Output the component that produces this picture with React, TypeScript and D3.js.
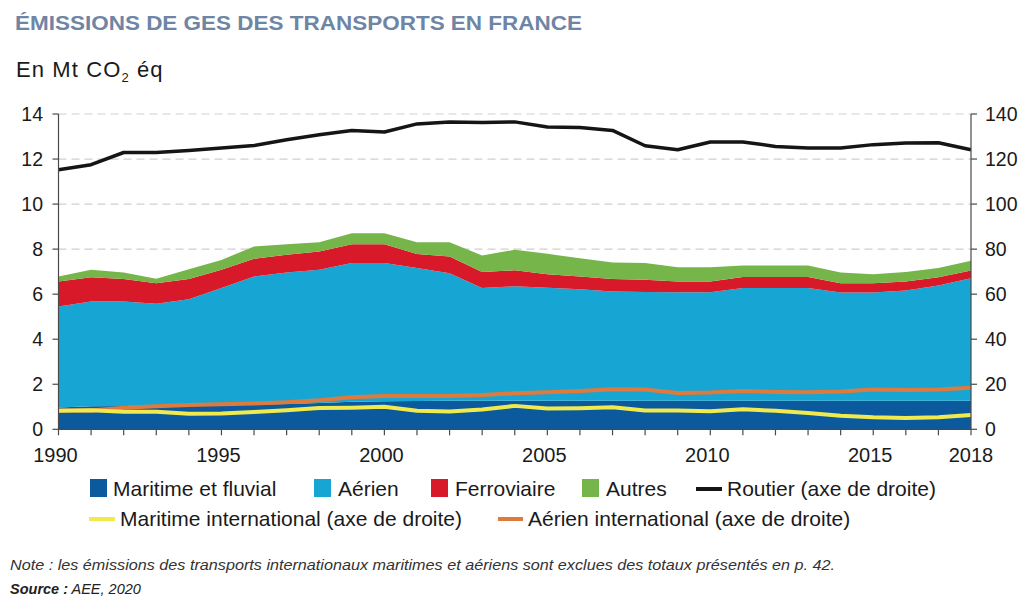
import React from "react";
import * as d3 from "d3";

const years = d3.range(1990, 2019);
const maritime = [0.97,1.02,1.03,1.05,1.05,1.07,1.1,1.12,1.17,1.22,1.25,1.26,1.27,1.27,1.27,1.27,1.27,1.27,1.27,1.27,1.27,1.27,1.27,1.27,1.27,1.27,1.27,1.27,1.27];
const aerien = [4.48,4.65,4.64,4.52,4.73,5.2,5.68,5.84,5.91,6.16,6.13,5.9,5.66,5.0,5.08,5.02,4.95,4.85,4.83,4.82,4.82,5.0,5.0,5.0,4.8,4.8,4.89,5.11,5.44];
const ferroviaire = [1.11,1.08,1.0,0.92,0.89,0.81,0.79,0.79,0.82,0.84,0.84,0.62,0.74,0.71,0.71,0.6,0.56,0.55,0.54,0.47,0.47,0.49,0.49,0.49,0.42,0.42,0.4,0.37,0.34];
const autres = [0.22,0.33,0.29,0.19,0.44,0.44,0.55,0.47,0.41,0.49,0.49,0.53,0.64,0.74,0.91,0.9,0.82,0.74,0.74,0.64,0.64,0.51,0.51,0.51,0.47,0.4,0.42,0.41,0.43];
const routier = [115.2,117.5,122.9,122.9,123.8,124.9,126,128.6,130.8,132.7,132,135.6,136.4,136.2,136.5,134.2,134,132.7,125.9,124.1,127.6,127.6,125.6,124.9,124.9,126.4,127.1,127.2,124.1];
const maritimeIntl = [8.2,8.5,7.8,7.8,6.9,7.0,7.7,8.5,9.5,9.6,10.0,8.2,7.9,8.8,10.4,9.2,9.4,9.8,8.3,8.3,8.0,8.9,8.2,7.2,6.0,5.3,5.0,5.3,6.4];
const aerienIntl = [8.3,8.3,9.6,10.2,10.8,11.1,11.5,12.0,12.9,14.2,14.8,14.8,14.8,15.2,16.0,16.4,17.0,17.8,17.7,16.1,16.3,17.0,16.6,16.4,16.8,17.7,17.4,17.7,18.5];
const leftTicks = [0, 2, 4, 6, 8, 10, 12, 14];
const rightTicks = [0, 20, 40, 60, 80, 100, 120, 140];
const yearLabels = [1990, 1995, 2000, 2005, 2010, 2015, 2018];

const stackKeys = ["maritime", "aerien", "ferroviaire", "autres"];
const colors: Record<string, string> = {
  maritime: "#0b5a9e",
  aerien: "#17a6d3",
  ferroviaire: "#d7192a",
  autres: "#76b54a",
  routier: "#151515",
  maritimeIntl: "#f1ea4f",
  aerienIntl: "#dd7a3d",
};

const FONT = "'Liberation Sans', Arial, Helvetica, sans-serif";

export default function App() {
  const x0 = 58.5, x1 = 971, yTop = 114, yBot = 429.3;
  const x = d3.scaleLinear().domain([1990, 2018]).range([x0, x1]);
  const yL = d3.scaleLinear().domain([0, 14]).range([yBot, yTop]);
  const yR = d3.scaleLinear().domain([0, 140]).range([yBot, yTop]);

  const rows = years.map((yr, i) => ({
    year: yr,
    maritime: maritime[i],
    aerien: aerien[i],
    ferroviaire: ferroviaire[i],
    autres: autres[i],
  }));
  const stacked = d3.stack<any>().keys(stackKeys)(rows);
  const area = d3
    .area<any>()
    .x((d) => x(d.data.year))
    .y0((d) => yL(d[0]))
    .y1((d) => yL(d[1]));
  const lineR = (vals: number[]) =>
    d3
      .line<number>()
      .x((_, i) => x(years[i]))
      .y((v) => yR(v))(vals) || "";

  const legend1 = [
    { key: "maritime", label: "Maritime et fluvial", sx: 90, tx: 113 },
    { key: "aerien", label: "Aérien", sx: 314, tx: 338 },
    { key: "ferroviaire", label: "Ferroviaire", sx: 431, tx: 455 },
    { key: "autres", label: "Autres", sx: 582, tx: 606 },
  ];

  return (
    <svg
      width={1024}
      height={607}
      style={{ position: "absolute", left: 0, top: 0, background: "#fff" }}
      fontFamily={FONT}
    >
      <rect x={0} y={0} width={1024} height={607} fill="#fff" />
      <text x={15} y={30} fontSize={21} fontWeight="bold" fill="#6e85a4" textLength={567} lengthAdjust="spacingAndGlyphs">
        ÉMISSIONS DE GES DES TRANSPORTS EN FRANCE
      </text>
      <text x={16} y={77} fontSize={22} fill="#1a1a1a" letterSpacing={1.1}>
        En Mt CO<tspan fontSize={13} dy={5}>2</tspan>
        <tspan dy={-5}> éq</tspan>
      </text>

      {/* gridlines */}
      {leftTicks.filter((t) => t > 0).map((t) => (
        <line key={t} x1={x0} x2={x1} y1={yL(t)} y2={yL(t)} stroke="#cfcfcf" strokeWidth={1.2} strokeDasharray="8,5" />
      ))}

      {/* areas */}
      {stacked.map((s) => (
        <path key={s.key} d={area(s as any) || ""} fill={colors[s.key]} />
      ))}

      {/* lines */}
      <path d={lineR(aerienIntl)} fill="none" stroke={colors.aerienIntl} strokeWidth={4} strokeLinejoin="round" />
      <path d={lineR(maritimeIntl)} fill="none" stroke={colors.maritimeIntl} strokeWidth={4} strokeLinejoin="round" />
      <path d={lineR(routier)} fill="none" stroke={colors.routier} strokeWidth={3.5} strokeLinejoin="round" />

      {/* left axis */}
      <line x1={x0} x2={x0} y1={yTop} y2={yBot} stroke="#4a4a4a" strokeWidth={1.2} />
      {leftTicks.map((t) => (
        <g key={t}>
          <line x1={x0 - 6} x2={x0} y1={yL(t)} y2={yL(t)} stroke="#4a4a4a" strokeWidth={1.2} />
          <text x={43} y={yL(t) + 7} fontSize={19.5} textAnchor="end" fill="#1a1a1a">{t}</text>
        </g>
      ))}
      {/* right axis */}
      <line x1={x1} x2={x1} y1={yTop} y2={yBot} stroke="#4a4a4a" strokeWidth={1.2} />
      {rightTicks.map((t) => (
        <g key={t}>
          <line x1={x1} x2={x1 + 6} y1={yR(t)} y2={yR(t)} stroke="#4a4a4a" strokeWidth={1.2} />
          <text x={985} y={yR(t) + 7} fontSize={19.5} textAnchor="start" fill="#1a1a1a">{t}</text>
        </g>
      ))}
      {/* bottom axis */}
      <line x1={x0} x2={x1} y1={yBot} y2={yBot} stroke="#4a4a4a" strokeWidth={1.2} />
      {years.map((yr) => (
        <line key={yr} x1={x(yr)} x2={x(yr)} y1={yBot} y2={yBot + 6} stroke="#4a4a4a" strokeWidth={1.2} />
      ))}
      {yearLabels.map((yr) => (
        <text key={yr} x={x(yr) - (yr === 2018 ? 0 : 3)} y={462} fontSize={20} textAnchor="middle" fill="#1a1a1a">{yr}</text>
      ))}

      {/* legend */}
      {legend1.map((l) => (
        <g key={l.key}>
          <rect x={l.sx} y={479} width={17} height={18} fill={colors[l.key]} />
          <text x={l.tx} y={496} fontSize={21} fill="#1a1a1a">{l.label}</text>
        </g>
      ))}
      <line x1={696} x2={722} y1={489} y2={489} stroke={colors.routier} strokeWidth={4} />
      <text x={727} y={496} fontSize={21} fill="#1a1a1a">Routier (axe de droite)</text>
      <line x1={89} x2={115} y1={519} y2={519} stroke={colors.maritimeIntl} strokeWidth={4} />
      <text x={120} y={526} fontSize={21} fill="#1a1a1a">Maritime international (axe de droite)</text>
      <line x1={498} x2={523} y1={519} y2={519} stroke={colors.aerienIntl} strokeWidth={4} />
      <text x={528} y={526} fontSize={21} fill="#1a1a1a">Aérien international (axe de droite)</text>

      {/* notes */}
      <text x={10} y={570} fontSize={14.5} fontStyle="italic" fill="#333" textLength={825} lengthAdjust="spacingAndGlyphs">
        Note : les émissions des transports internationaux maritimes et aériens sont exclues des totaux présentés en p. 42.
      </text>
      <text x={10} y={594} fontSize={14.5} fontStyle="italic" fill="#222">
        <tspan fontWeight="bold">Source :</tspan> AEE, 2020
      </text>
    </svg>
  );
}
